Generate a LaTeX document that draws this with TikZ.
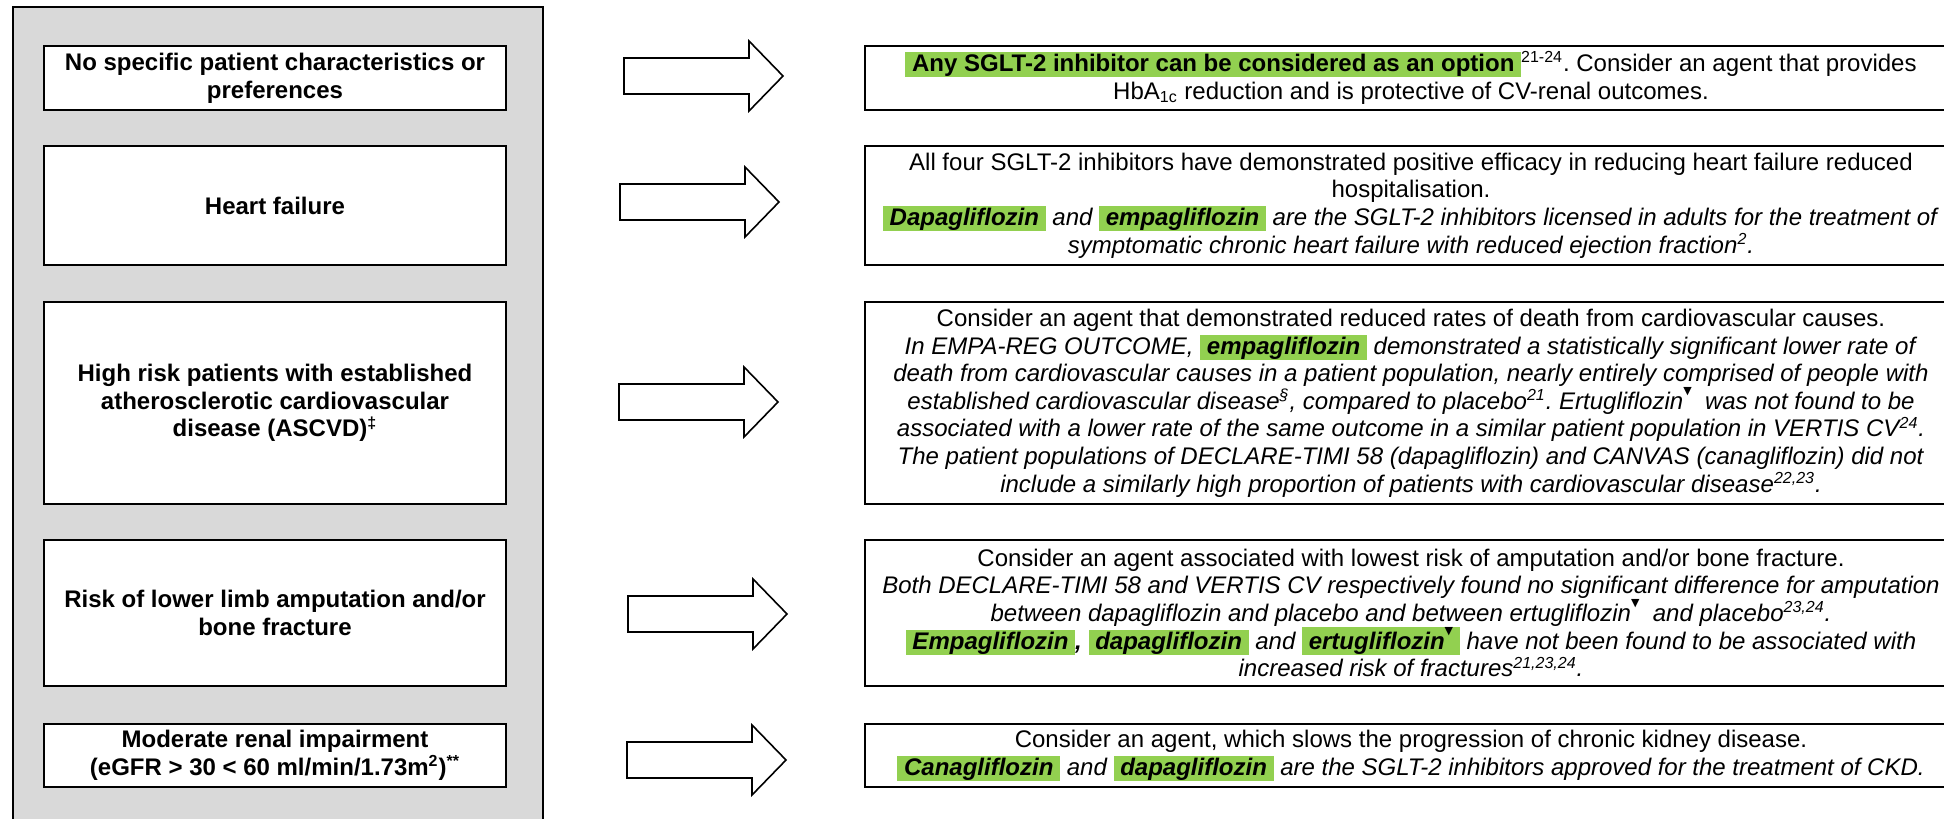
\documentclass[tikz,border=0pt]{standalone}
\usepackage{fontspec}
\setmainfont{Liberation Sans}
\newfontfamily\symfont{DejaVu Sans}
\usepackage{xcolor}
\definecolor{panelgray}{HTML}{D9D9D9}
\definecolor{hlgreen}{HTML}{92D050}
\frenchspacing
\newcommand\hl[1]{{\setlength{\fboxsep}{0pt}\colorbox{hlgreen}{\rule[-0.24em]{0pt}{1.05em}\hspace{0.28em}#1\hspace{0.28em}}}}
\newcommand\tri{\raisebox{0.62em}{\symfont\fontsize{5.5}{6}\selectfont ▼}}
\newcommand\blockarrow[3]{%
  \coordinate (#3) at (#1,#2);
  \draw[barrow] (#3) ++(0,-18) -- ++(125,0) -- ++(0,-17) -- ++(34,35) -- ++(-34,35) -- ++(0,-17) -- ++(-125,0) -- cycle;}
\tikzset{
  panel/.style={draw=black, line width=1pt, fill=panelgray},
  lbox/.style={draw=black, line width=1pt, fill=white, minimum width=231pt, inner sep=0pt, align=center, anchor=north west, font={\fontsize{12}{13.8}\selectfont\bfseries}},
  rbox/.style={draw=black, line width=1pt, fill=white, minimum width=546pt, inner sep=0pt, align=center, anchor=north west, font={\fontsize{12}{13.8}\selectfont}},
  barrow/.style={draw=black, line width=0.8pt, fill=white, line join=miter}
}
\begin{document}
\begin{tikzpicture}[x=0.5pt,y=-0.5pt]
\useasboundingbox (0,0) rectangle (1944,819);
\fill[white] (0,0) rectangle (1944,819);
\clip (0,0) rectangle (1944,819);
\draw[panel] (13,7) rectangle (543,840);
% left boxes
\node[lbox, minimum height=32pt] (l1) at (43,45) {No specific patient characteristics or\\preferences};
\node[lbox, minimum height=59.5pt] (l2) at (43,145) {Heart failure};
\node[lbox, minimum height=101pt] (l3) at (43,301) {High risk patients with established\\atherosclerotic cardiovascular\\disease (ASCVD)\textsuperscript{‡}};
\node[lbox, minimum height=73pt] (l4) at (43,539) {Risk of lower limb amputation and/or\\bone fracture};
\node[lbox, minimum height=31.5pt] (l5) at (43,723) {Moderate renal impairment\\(eGFR > 30 < 60 ml/min/1.73m\textsuperscript{2})\textsuperscript{**}};
% right boxes
\node[rbox, minimum height=32pt] (r1) at (864,45) {\hl{\textbf{Any SGLT-2 inhibitor can be considered as an option}}\textsuperscript{21-24}. Consider an agent that provides\\HbA\textsubscript{1c} reduction and is protective of CV-renal outcomes.};
\node[rbox, minimum height=59.5pt] (r2) at (864,145) {All four SGLT-2 inhibitors have demonstrated positive efficacy in reducing heart failure reduced\\hospitalisation.\\\textit{\hl{\textbf{Dapagliflozin}} and \hl{\textbf{empagliflozin}} are the SGLT-2 inhibitors licensed in adults for the treatment of}\\\textit{symptomatic chronic heart failure with reduced ejection fraction\textsuperscript{2}.}};
\node[rbox, minimum height=101pt] (r3) at (864,301) {Consider an agent that demonstrated reduced rates of death from cardiovascular causes.\\\textit{In EMPA-REG OUTCOME, \hl{\textbf{empagliflozin}} demonstrated a statistically significant lower rate of}\\\textit{death from cardiovascular causes in a patient population, nearly entirely comprised of people with}\\\textit{established cardiovascular disease\textsuperscript{§}, compared to placebo\textsuperscript{21}. Ertugliflozin\tri\ \ was not found to be}\\\textit{associated with a lower rate of the same outcome in a similar patient population in VERTIS CV\textsuperscript{24}.}\\\textit{The patient populations of DECLARE-TIMI 58 (dapagliflozin) and CANVAS (canagliflozin) did not}\\\textit{include a similarly high proportion of patients with cardiovascular disease\textsuperscript{22,23}.}};
\node[rbox, minimum height=73pt] (r4) at (864,539) {Consider an agent associated with lowest risk of amputation and/or bone fracture.\\\textit{Both DECLARE-TIMI 58 and VERTIS CV respectively found no significant difference for amputation}\\\textit{between dapagliflozin and placebo and between ertugliflozin\tri\ \ and placebo\textsuperscript{23,24}.}\\\textit{\hl{\textbf{Empagliflozin}}\textbf{,} \hl{\textbf{dapagliflozin}} and \hl{\textbf{ertugliflozin\tri}} have not been found to be associated with}\\\textit{increased risk of fractures\textsuperscript{21,23,24}.}};
\node[rbox, minimum height=31.5pt] (r5) at (864,723) {Consider an agent, which slows the progression of chronic kidney disease.\\\textit{\hl{\textbf{Canagliflozin}} and \hl{\textbf{dapagliflozin}} are the SGLT-2 inhibitors approved for the treatment of CKD.}};
% block arrows
\blockarrow{624}{76}{a1}
\blockarrow{620}{202}{a2}
\blockarrow{619}{402}{a3}
\blockarrow{628}{614}{a4}
\blockarrow{627}{760}{a5}
\end{tikzpicture}
\end{document}
